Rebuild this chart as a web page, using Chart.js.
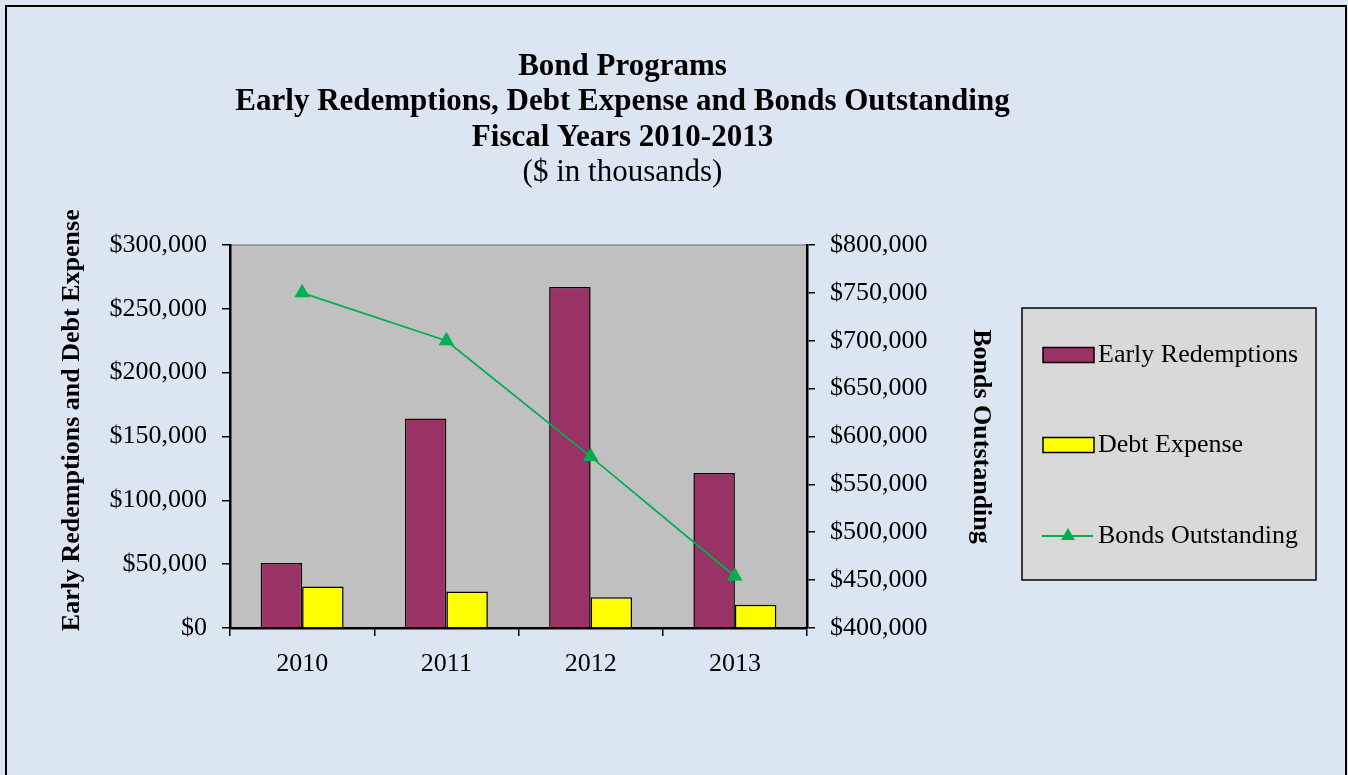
<!DOCTYPE html>
<html>
<head>
<meta charset="utf-8">
<title>Bond Programs</title>
<script src="https://cdn.jsdelivr.net/npm/chart.js@4.4.1/dist/chart.umd.min.js"></script>
<style>
  html, body { margin: 0; padding: 0; background: #dce6f2; }
  canvas { display: block; }
</style>
</head>
<body>
<canvas id="bondChart" width="1348" height="775"></canvas>
<script>
// values ($ in thousands)
const years = ["2010", "2011", "2012", "2013"];
const earlyRedemptions = [51000, 164000, 267000, 121500];
const debtExpense = [32500, 28600, 24000, 18300];
const bondsOutstanding = [750000, 700000, 579000, 454000];

const leftTickValues = [0, 50000, 100000, 150000, 200000, 250000, 300000];
const rightTickValues = [400000, 450000, 500000, 550000, 600000, 650000, 700000, 750000, 800000];

const serif = "'Liberation Serif', 'Times New Roman', serif";
Chart.defaults.font.family = serif;
Chart.defaults.font.size = 26;
Chart.defaults.color = "#000";

function money(v) {
  return "$" + Number(v).toLocaleString("en-US");
}

// page background, outer frame and grey plot area
const chartFrame = {
  id: "chartFrame",
  beforeDraw(chart) {
    const { ctx, chartArea } = chart;
    ctx.save();
    ctx.fillStyle = "#dce6f2";
    ctx.fillRect(0, 0, chart.width, chart.height);
    ctx.strokeStyle = "#000";
    ctx.lineWidth = 2;
    ctx.strokeRect(6, 6, chart.width - 8, chart.height + 20);
    ctx.fillStyle = "#c0c0c0";
    ctx.fillRect(chartArea.left, chartArea.top, chartArea.right - chartArea.left, chartArea.bottom - chartArea.top);
    ctx.strokeStyle = "#8a8a8a";
    ctx.lineWidth = 1.5;
    ctx.beginPath();
    ctx.moveTo(chartArea.left, chartArea.top);
    ctx.lineTo(chartArea.right, chartArea.top);
    ctx.stroke();
    ctx.restore();
  }
};

// boxed legend on the right, like the spreadsheet one
const boxLegend = {
  id: "boxLegend",
  afterDraw(chart) {
    const ctx = chart.ctx;
    const rows = [355, 445, 536];
    ctx.save();
    ctx.fillStyle = "#d9d9d9";
    ctx.fillRect(1022, 308, 294, 272);
    ctx.strokeStyle = "#000";
    ctx.lineWidth = 1.5;
    ctx.strokeRect(1022, 308, 294, 272);

    chart.data.datasets.forEach((ds, i) => {
      const y = rows[i];
      if (ds.type === "line") {
        ctx.strokeStyle = ds.borderColor;
        ctx.lineWidth = 2;
        ctx.beginPath();
        ctx.moveTo(1042, y);
        ctx.lineTo(1093, y);
        ctx.stroke();
        const r = 8;
        ctx.fillStyle = ds.backgroundColor;
        ctx.beginPath();
        ctx.moveTo(1068, y - r);
        ctx.lineTo(1068 + r * 0.866, y + r / 2);
        ctx.lineTo(1068 - r * 0.866, y + r / 2);
        ctx.closePath();
        ctx.fill();
      } else {
        ctx.fillStyle = ds.backgroundColor;
        ctx.fillRect(1043, y - 7.5, 51, 15);
        ctx.strokeStyle = "#000";
        ctx.lineWidth = 1.5;
        ctx.strokeRect(1043, y - 7.5, 51, 15);
      }
      ctx.fillStyle = "#000";
      ctx.font = "26px " + serif;
      ctx.textBaseline = "middle";
      ctx.textAlign = "left";
      ctx.fillText(ds.label, 1098, y);
    });
    ctx.restore();
  }
};

const axisGrid = {
  display: true,
  drawOnChartArea: false,
  color: "#000",
  lineWidth: 1.5,
  tickLength: 8
};

new Chart(document.getElementById("bondChart"), {
  type: "bar",
  data: {
    labels: years,
    datasets: [
      {
        label: "Early Redemptions",
        data: earlyRedemptions,
        backgroundColor: "#993366",
        borderColor: "#000",
        borderWidth: 1.5,
        yAxisID: "y",
        order: 2
      },
      {
        label: "Debt Expense",
        data: debtExpense,
        backgroundColor: "#ffff00",
        borderColor: "#000",
        borderWidth: 1.5,
        yAxisID: "y",
        order: 2
      },
      {
        type: "line",
        label: "Bonds Outstanding",
        data: bondsOutstanding,
        borderColor: "#00b050",
        backgroundColor: "#00b050",
        borderWidth: 1.8,
        pointStyle: "triangle",
        pointRadius: 9,
        pointBorderWidth: 0,
        tension: 0,
        yAxisID: "y2",
        order: 1
      }
    ]
  },
  options: {
    responsive: false,
    animation: false,
    layout: { padding: { left: 0, right: 103, top: 0, bottom: 0 } },
    datasets: {
      bar: { categoryPercentage: 0.575, barPercentage: 1 }
    },
    plugins: {
      legend: { display: false },
      tooltip: { enabled: false },
      title: {
        display: true,
        text: ["Bond Programs", "Early Redemptions, Debt Expense and Bonds Outstanding", "Fiscal Years 2010-2013"],
        font: { size: 31, weight: "bold", lineHeight: 1.145 },
        color: "#000",
        padding: { top: 49, bottom: 0 }
      },
      subtitle: {
        display: true,
        text: "($ in thousands)",
        font: { size: 31, weight: "normal", lineHeight: 1.145 },
        color: "#000",
        padding: { top: 0, bottom: 54 }
      }
    },
    scales: {
      x: {
        grid: Object.assign({ offset: true }, axisGrid),
        border: { color: "#000", width: 2.5 },
        ticks: { padding: 13 },
        afterFit(scale) { scale.height = 147; }
      },
      y: {
        position: "left",
        min: leftTickValues[0],
        max: leftTickValues[leftTickValues.length - 1],
        afterBuildTicks(scale) { scale.ticks = leftTickValues.map(v => ({ value: v })); },
        ticks: { callback: money, padding: 15 },
        grid: axisGrid,
        border: { color: "#000", width: 2.5 },
        title: {
          display: true,
          // leading spaces nudge the centred title up a little, as in the original
          text: "     Early Redemptions and Debt Expense",
          font: { size: 26, weight: "bold" },
          padding: { top: 57, bottom: 0 }
        },
        afterFit(scale) { scale.width = 230; }
      },
      y2: {
        position: "right",
        min: rightTickValues[0],
        max: rightTickValues[rightTickValues.length - 1],
        afterBuildTicks(scale) { scale.ticks = rightTickValues.map(v => ({ value: v })); },
        ticks: { callback: money, padding: 15 },
        grid: axisGrid,
        border: { color: "#000", width: 2.5 },
        title: {
          display: true,
          text: "Bonds Outstanding",
          font: { size: 26, weight: "bold" },
          padding: { top: 249, bottom: 0 }
        },
        afterFit(scale) { scale.width = 438; }
      }
    }
  },
  plugins: [chartFrame, boxLegend]
});
</script>
</body>
</html>
